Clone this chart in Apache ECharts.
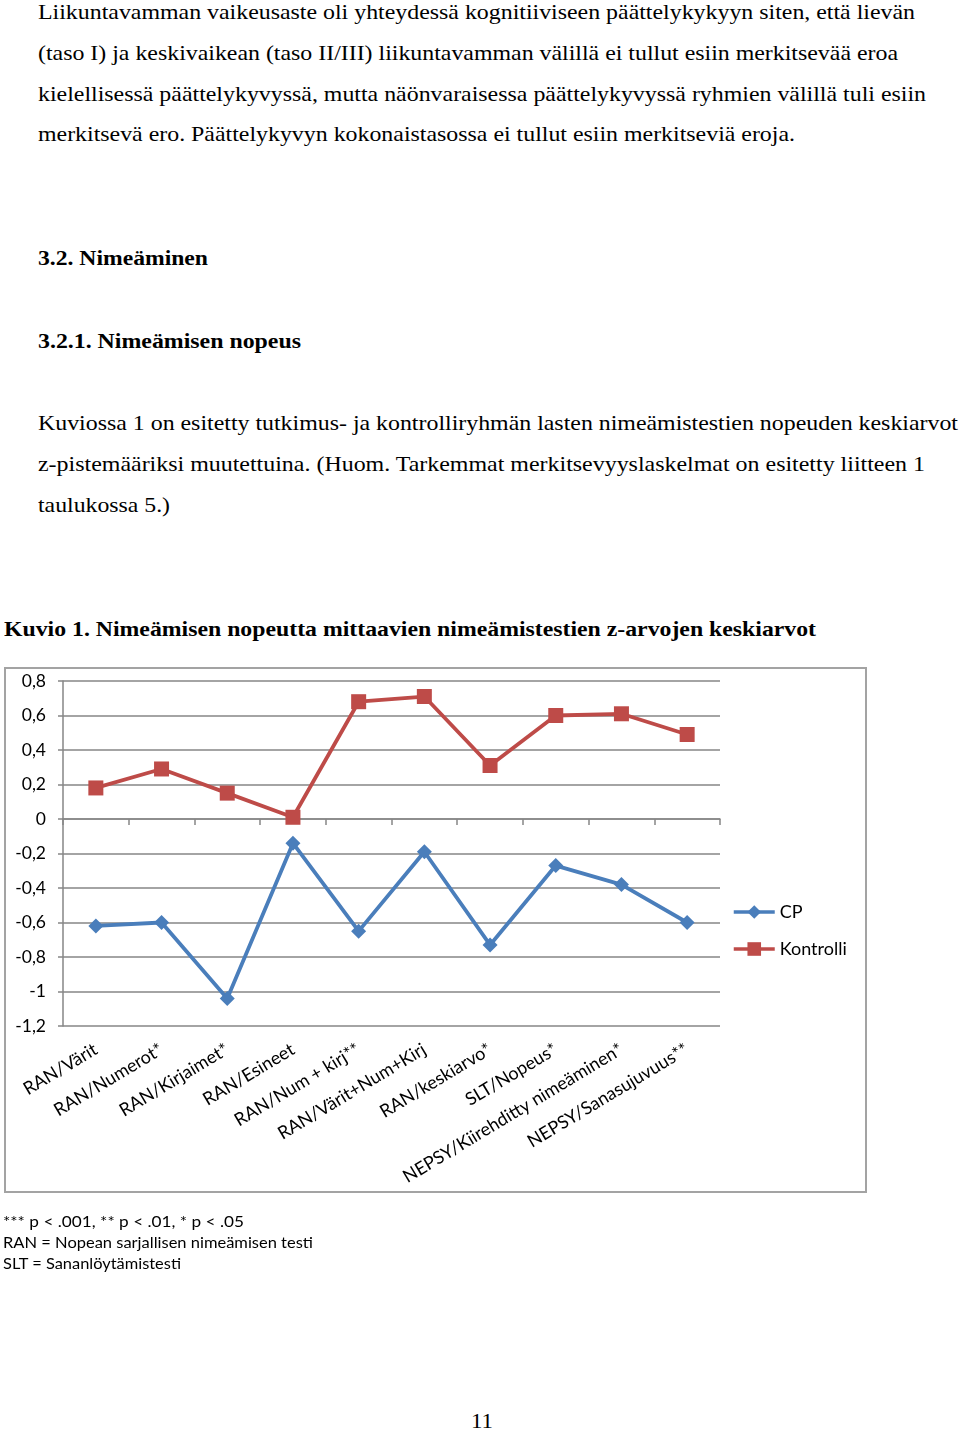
<!DOCTYPE html>
<html>
<head>
<meta charset="utf-8">
<script src="https://cdn.jsdelivr.net/npm/echarts@6/dist/echarts.min.js"></script>
<style>
  html, body { margin: 0; padding: 0; background: #fff; }
  body { width: 960px; height: 1430px; position: relative; overflow: hidden; }
  .t { position: absolute; white-space: nowrap; color: #000; transform-origin: 0 0; }
  .serif { font-family: "Liberation Serif", "Times New Roman", serif; }
  .sans { font-family: Lato, "Open Sans", sans-serif; }
  #frame { position: absolute; left: 4px; top: 667px; width: 863px; height: 526px; border: 2px solid #a3a3a3; box-sizing: border-box; pointer-events: none; }
  #chart { position: absolute; left: 0; top: 660px; width: 900px; height: 560px; }
</style>
</head>
<body>
<div id="chart"></div>
<div id="frame"></div>
<script>
// ---- Data ----
const categories = [
  "RAN/Värit", "RAN/Numerot*", "RAN/Kirjaimet*", "RAN/Esineet", "RAN/Num + kirj**",
  "RAN/Värit+Num+Kirj", "RAN/keskiarvo*", "SLT/Nopeus*", "NEPSY/Kiirehditty nimeäminen*", "NEPSY/Sanasujuvuus**"
];
const seriesNames = ["CP", "Kontrolli"];
const cpValues = [-0.62, -0.60, -1.04, -0.14, -0.65, -0.19, -0.73, -0.27, -0.38, -0.60];
const kontrolliValues = [0.18, 0.29, 0.15, 0.01, 0.68, 0.71, 0.31, 0.60, 0.61, 0.49];
const yTicks = { min: -1.2, max: 0.8, step: 0.2 };

// ---- Page text ----
const pageLines = [
  { text: "Liikuntavamman vaikeusaste oli yhteydessä kognitiiviseen päättelykykyyn siten, että lievän", x: 38, base: 18.5, w: 877, size: 22, cls: "serif" },
  { text: "(taso I) ja keskivaikean (taso II/III) liikuntavamman välillä ei tullut esiin merkitsevää eroa", x: 38, base: 59.5, w: 860, size: 22, cls: "serif" },
  { text: "kielellisessä päättelykyvyssä, mutta näönvaraisessa päättelykyvyssä ryhmien välillä tuli esiin", x: 38, base: 100.5, w: 888, size: 22, cls: "serif" },
  { text: "merkitsevä ero. Päättelykyvyn kokonaistasossa ei tullut esiin merkitseviä eroja.", x: 38, base: 141, w: 757, size: 22, cls: "serif" },
  { text: "3.2. Nimeäminen", x: 38, base: 265, w: 170, size: 22, cls: "serif", bold: true },
  { text: "3.2.1. Nimeämisen nopeus", x: 38, base: 347.5, w: 263, size: 22, cls: "serif", bold: true },
  { text: "Kuviossa 1 on esitetty tutkimus- ja kontrolliryhmän lasten nimeämistestien nopeuden keskiarvot", x: 38, base: 430, w: 920, size: 22, cls: "serif" },
  { text: "z-pistemääriksi muutettuina. (Huom. Tarkemmat merkitsevyyslaskelmat on esitetty liitteen 1", x: 38, base: 471, w: 887, size: 22, cls: "serif" },
  { text: "taulukossa 5.)", x: 38, base: 512, w: 132, size: 22, cls: "serif" },
  { text: "Kuvio 1. Nimeämisen nopeutta mittaavien nimeämistestien z-arvojen keskiarvot", x: 4, base: 636, w: 812, size: 22, cls: "serif", bold: true },
  { text: "***  p < .001, ** p < .01, * p < .05", x: 3, base: 1227, w: 241, size: 15, cls: "sans" },
  { text: "RAN = Nopean sarjallisen nimeämisen testi", x: 3, base: 1248, w: 310, size: 15, cls: "sans" },
  { text: "SLT = Sananlöytämistesti", x: 3, base: 1269, w: 178, size: 15, cls: "sans" },
  { text: "11", x: 471, base: 1427.5, w: 22, size: 22, cls: "serif" }
];

pageLines.forEach(function (l) {
  const el = document.createElement('div');
  el.className = 't ' + l.cls;
  el.textContent = l.text;
  el.style.fontSize = l.size + 'px';
  el.style.lineHeight = '1.2';
  if (l.bold) el.style.fontWeight = 'bold';
  el.style.left = l.x + 'px';
  el.style.top = '0px';
  document.body.appendChild(el);
  const m = document.createElement('span');
  m.style.display = 'inline-block'; m.style.width = '0'; m.style.height = '0'; m.style.verticalAlign = 'baseline';
  el.appendChild(m);
  const b = m.offsetTop;
  el.removeChild(m);
  el.style.top = (l.base - b) + 'px';
  const w = el.getBoundingClientRect().width;
  if (w > 0) el.style.transform = 'scaleX(' + (l.w / w) + ')';
});

// ---- Chart ----
const chart = echarts.init(document.getElementById('chart'), null, { renderer: 'canvas' });
const chartFont = 'Lato, "Open Sans", sans-serif';
const gray = '#868686';
function fmt(v) {
  return String(Number(v.toFixed(1))).replace('.', ',');
}
chart.setOption({
  animation: false,
  textStyle: { fontFamily: chartFont },
  grid: { left: 63, top: 21, width: 657, height: 345 },
  legend: {
    orient: 'vertical',
    left: 732, top: 242,
    padding: 0,
    itemWidth: 41, itemHeight: 17, itemGap: 17,
    lineStyle: { width: 3.5 },
    textStyle: { fontFamily: chartFont, fontSize: 18, color: '#000', padding: [0, 0, 0, 0], lineHeight: 20 },
    data: seriesNames
  },
  xAxis: [
    {
      type: 'category', data: categories, boundaryGap: true,
      axisLine: { show: true, onZero: true, lineStyle: { color: gray, width: 1.5 } },
      axisTick: { show: true, interval: 0, length: 6, lineStyle: { color: gray, width: 1.5 } },
      axisLabel: { show: false, interval: 0 },
      splitLine: { show: false }
    },
    {
      type: 'category', data: categories, boundaryGap: true, position: 'bottom',
      axisLine: { show: false, onZero: false },
      axisTick: { show: false },
      axisLabel: { show: true, interval: 0, rotate: 31, margin: 22, fontFamily: chartFont, fontSize: 18, color: '#000' },
      splitLine: { show: false }
    }
  ],
  yAxis: {
    type: 'value', min: yTicks.min, max: yTicks.max, interval: yTicks.step,
    axisLine: { show: true, lineStyle: { color: gray, width: 1.5 } },
    axisTick: { show: true, length: 5, lineStyle: { color: gray, width: 1.5 } },
    axisLabel: { formatter: fmt, fontFamily: chartFont, fontSize: 17.5, color: '#000', margin: 17 },
    splitLine: { show: true, lineStyle: { color: gray, width: 1.5 } }
  },
  series: [
    {
      name: seriesNames[0], type: 'line', data: cpValues, xAxisIndex: 0,
      symbol: 'diamond', symbolSize: 15,
      lineStyle: { color: '#4A7EBB', width: 3.8 },
      itemStyle: { color: '#4A7EBB' }
    },
    {
      name: seriesNames[1], type: 'line', data: kontrolliValues, xAxisIndex: 0,
      symbol: 'rect', symbolSize: 15,
      lineStyle: { color: '#BE4B48', width: 3.8 },
      itemStyle: { color: '#BE4B48' }
    }
  ]
});
</script>
</body>
</html>
